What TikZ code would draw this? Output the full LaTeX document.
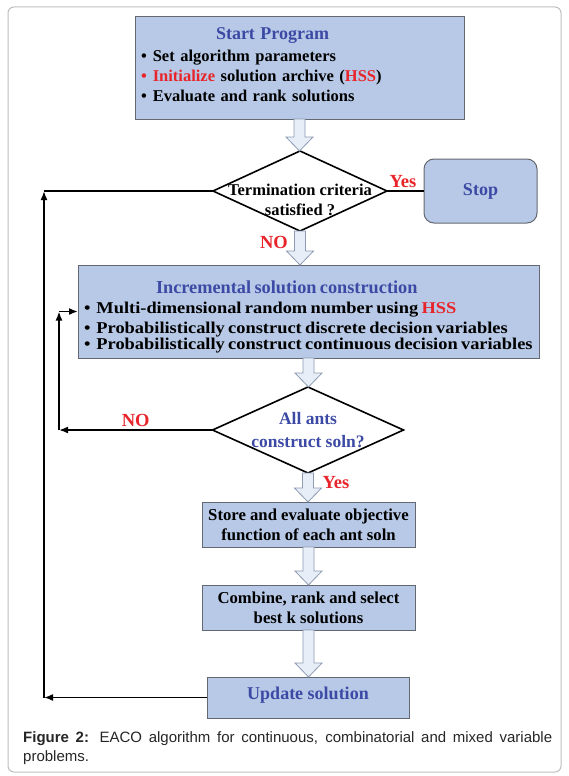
\documentclass[tikz,border=0pt]{standalone}
\usepackage{fontspec}
\setmainfont{Liberation Serif}
\newfontfamily\widefont[FakeStretch=1.115]{Liberation Serif}
\newfontfamily\capfont{Liberation Sans}
\usetikzlibrary{arrows.meta,shapes.geometric,calc}

\definecolor{boxblue}{RGB}{183,201,230}
\definecolor{boxline}{RGB}{100,104,112}
\definecolor{titleblue}{RGB}{60,74,165}
\definecolor{hssred}{RGB}{232,36,42}
\definecolor{arrowfill}{RGB}{231,238,248}
\definecolor{arrowline}{RGB}{140,154,178}
\definecolor{framegray}{RGB}{190,190,190}

\newcommand{\fsz}[2]{\fontsize{#1}{#2}\selectfont}
% block arrow from the bottom of #1 to the top of #2
\newcommand{\hollowarrow}[2]{%
  \coordinate (ha-s) at (#1.south);
  \coordinate (ha-e) at (#2.north -| #1.south);
  \draw[hollow] ($(ha-s)+(-5.5,0)$) -- ($(ha-e)+(-5.5,-14)$) -- ++(-8,0)
    -- (ha-e) -- ($(ha-e)+(13.5,-14)$) -- ++(-8,0) -- ($(ha-s)+(5.5,0)$) -- cycle;}

\begin{document}
\begin{tikzpicture}[x=1pt,y=-1pt,
    box/.style={draw=boxline,fill=boxblue,line width=1pt,inner xsep=6pt,inner ysep=0pt,outer sep=0pt,font=\bfseries},
    decision/.style={diamond,draw,line width=1.6pt,inner sep=0pt,outer sep=0pt},
    dtext/.style={align=center,inner sep=0pt,font=\bfseries},
    lab/.style={text=hssred,inner sep=0pt,font=\bfseries\fsz{18.5}{20}},
    hollow/.style={draw=arrowline,fill=arrowfill,line width=0.8pt,line join=miter},
    feedback/.style={line width=1.7pt,-{Latex[length=9pt,width=7pt]}},
    link/.style={line width=1.7pt}
]
\useasboundingbox (0,0) rectangle (568,776);
\draw[framegray,line width=1pt,rounded corners=6pt] (8,7) rectangle (561,772);

\node[box,minimum width=329pt,minimum height=102pt,text width=317pt,align=left,font=\bfseries\fsz{16.5}{20}] (start) at (299.5,68)
  {\hspace*{75pt}{\fsz{18}{20}\color{titleblue}Start Program}\\[2pt]
   \textbullet\hspace{6pt}Set algorithm parameters\\
   {\color{hssred}\textbullet\hspace{6pt}Initialize} solution archive ({\color{hssred}HSS})\\
   \textbullet\hspace{6pt}Evaluate and rank solutions\rule[-6.5pt]{0pt}{6.5pt}};
\node[decision,minimum width=174pt,minimum height=80pt,
  label={[dtext,yshift=-9pt,font=\bfseries\fsz{16.5}{20}]center:{Termination criteria\\satisfied ?}}] (term) at (300,191) {};
\node[box,rounded corners=10pt,minimum width=113pt,minimum height=64pt,text=titleblue,font=\bfseries\fsz{18}{20}] (stop) at (480.5,191) {Stop};
\node[box,minimum width=461pt,minimum height=93pt,text width=449pt,align=left,font=\bfseries\widefont] (build) at (308.5,311.5)
  {\hspace*{72pt}{\fsz{18.3}{20.3}\color{titleblue}\normalfont\bfseries Incremental solution construction}\rule{0pt}{23.6pt}\\
   \fsz{16.5}{20.3}\textbullet\hspace{6pt}Multi-dimensional random number using {\color{hssred}HSS}\\
   \textbullet\hspace{6pt}Probabilistically construct discrete decision variables\\
   \textbullet\hspace{6pt}Probabilistically construct continuous decision variables};
\node[decision,minimum width=191pt,minimum height=86pt,
  label={[dtext,text=titleblue,font=\bfseries\fsz{17.5}{23}]center:{All ants\\construct soln?}}] (ants) at (308,430) {};
\node[box,minimum width=213pt,minimum height=45pt,align=center,font=\bfseries\fsz{16.7}{20}] (store) at (308.5,524.5)
  {Store and evaluate objective\\function of each ant soln};
\node[box,minimum width=213pt,minimum height=45pt,align=center,font=\bfseries\fsz{16.7}{20}] (rank) at (308.5,607.5)
  {Combine, rank and select\\best k solutions};
\node[box,minimum width=202pt,minimum height=41pt,text height=12pt,text depth=9pt,text=titleblue,font=\bfseries\fsz{18}{20}] (update) at (308,697.5)
  {Update solution};

\node[lab] (no1) at (274,242) {NO};
\node[lab] (yes2) at (336,483) {Yes};

\hollowarrow{start}{term}
\hollowarrow{term}{build}
\hollowarrow{build}{ants}
\hollowarrow{ants}{store}
\hollowarrow{store}{rank}
\hollowarrow{rank}{update}

\draw[link] (term.east) -- node[lab,above=2pt,pos=0.43]{Yes} (stop.west);

% loops back
\coordinate (outer) at (44,0);
\coordinate (inner) at (59,0);
\draw[feedback] (update.west) -- (update.west -| outer);
\draw[feedback] (update.west -| outer) -- (term.west -| outer);
\draw[link] (term.west -| outer) -- (term.west);
\draw[feedback] (ants.west) -- node[lab,above=2pt]{NO} (ants.west -| inner);
\draw[feedback] (ants.west -| inner) -- (build.west -| inner);
\draw[feedback] (build.west -| inner) -- (build.west);

\node[anchor=north west,text width=529pt,align=justify,inner sep=0pt,text=black!85,font=\capfont\fsz{15}{19}] (caption) at (23,731)
  {\textbf{Figure 2:} EACO algorithm for continuous, combinatorial and mixed variable problems.};
\end{tikzpicture}
\end{document}
